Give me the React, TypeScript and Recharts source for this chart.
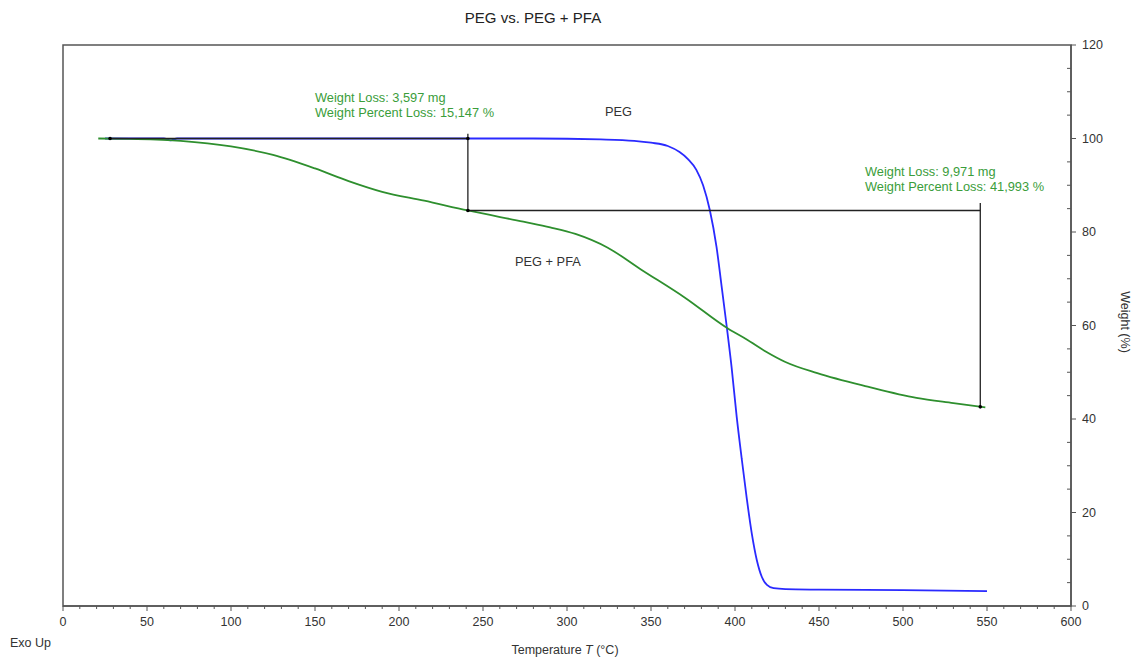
import { LineChart, Line, XAxis, YAxis, ReferenceLine, ReferenceDot, ReferenceArea } from "recharts";

// PEG (blue)
const pegTemp = [25, 60, 64, 68, 120, 200, 280, 320, 340, 350, 360, 367, 372, 377, 381, 385, 389, 392, 395, 398, 401, 404, 407, 410, 413, 416, 419, 423, 430, 450, 500, 550];
const pegWeight = [100, 100, 99.6, 100, 100, 100, 100, 99.8, 99.5, 99.1, 98.4, 97.1, 95.6, 93.3, 90.0, 84.7, 76.8, 68.5, 60, 51, 40.5, 31.5, 23, 15.5, 9.8, 6.2, 4.5, 3.8, 3.6, 3.5, 3.4, 3.2];

// PEG + PFA (green)
const pfaTemp = [21, 40, 70, 100, 125, 150, 170, 190, 215, 241, 274, 290, 305, 324, 344, 370, 396, 407, 418, 430, 449, 479, 508, 530, 549];
const pfaWeight = [100, 99.9, 99.5, 98.3, 96.5, 93.6, 90.9, 88.6, 86.7, 84.6, 82.2, 81.0, 79.6, 76.7, 72.0, 66.0, 59.3, 57.0, 54.5, 52.2, 49.8, 46.9, 44.5, 43.4, 42.5];

const xMajorTicks = [0, 50, 100, 150, 200, 250, 300, 350, 400, 450, 500, 550, 600];
const yMajorTicks = [0, 20, 40, 60, 80, 100, 120];

const xTicks: number[] = [];
for (let i = 0; i < xMajorTicks.length - 1; i++) {
  for (let k = 0; k < 5; k++) xTicks.push(xMajorTicks[i] + k * 10);
}
xTicks.push(600);
const yTicks: number[] = [];
for (let i = 0; i < yMajorTicks.length - 1; i++) {
  for (let k = 0; k < 4; k++) yTicks.push(yMajorTicks[i] + k * 5);
}
yTicks.push(120);

const pegData = pegTemp.map((t, i) => ({ t, w: pegWeight[i] }));
const pfaData = pfaTemp.map((t, i) => ({ t, w: pfaWeight[i] }));

const AXIS = "#555";
const GREEN_TXT = "#3a9d3a";
const FONT = "'Liberation Sans', Arial, sans-serif";

const XTick = (props: any) => {
  const { x, y, payload } = props;
  const major = xMajorTicks.includes(payload.value);
  return (
    <g>
      <line x1={x} x2={x} y1={y} y2={y + (major ? 5 : 3)} stroke={AXIS} />
      {major && (
        <text x={x} y={y + 20} textAnchor="middle" fontSize={12.5} fill="#333" fontFamily={FONT}>
          {payload.value}
        </text>
      )}
    </g>
  );
};

const YTick = (props: any) => {
  const { x, y, payload } = props;
  const major = yMajorTicks.includes(payload.value);
  return (
    <g>
      {major ? (
        <line x1={x} x2={x + 5} y1={y} y2={y} stroke={AXIS} />
      ) : (
        <line x1={x - 4} x2={x} y1={y} y2={y} stroke={AXIS} />
      )}
      {major && (
        <text x={x + 11} y={y + 4} textAnchor="start" fontSize={12.5} fill="#333" fontFamily={FONT}>
          {payload.value}
        </text>
      )}
    </g>
  );
};

const App = () => {
  return (
    <div style={{ position: "relative", width: 1131, height: 657, background: "#fff" }}>
      <style>{`body{margin:0}`}</style>
      <LineChart
        width={1131}
        height={657}
        margin={{ top: 45, right: 20, left: 63, bottom: 21 }}
      >
        <XAxis
          dataKey="t"
          type="number"
          domain={[0, 600]}
          ticks={xTicks}
          interval={0}
          tickSize={0}
          tickMargin={0}
          tickLine={false}
          tick={<XTick />}
          axisLine={{ stroke: AXIS, strokeWidth: 1.5 }}
          height={30}
          allowDataOverflow
        />
        <YAxis
          dataKey="w"
          type="number"
          orientation="right"
          domain={[0, 120]}
          ticks={yTicks}
          interval={0}
          tickSize={0}
          tickMargin={0}
          tickLine={false}
          tick={<YTick />}
          axisLine={{ stroke: AXIS, strokeWidth: 1.5 }}
          width={40}
          allowDataOverflow
        />
        <ReferenceArea x1={0} x2={600} y1={0} y2={120} fill="none" stroke={AXIS} strokeWidth={1.5} />
        <Line
          data={pegData}
          dataKey="w"
          type="monotone"
          stroke="#2a2aff"
          strokeWidth={1.8}
          dot={false}
          isAnimationActive={false}
        />
        <Line
          data={pfaData}
          dataKey="w"
          type="monotone"
          stroke="#2e8f2e"
          strokeWidth={1.8}
          dot={false}
          isAnimationActive={false}
        />
        <ReferenceLine segment={[{ x: 28, y: 100 }, { x: 241, y: 100 }]} stroke="#222" strokeWidth={1.3} />
        <ReferenceLine segment={[{ x: 241, y: 101 }, { x: 241, y: 84.6 }]} stroke="#222" strokeWidth={1.3} />
        <ReferenceLine segment={[{ x: 241, y: 84.6 }, { x: 546, y: 84.6 }]} stroke="#222" strokeWidth={1.3} />
        <ReferenceLine segment={[{ x: 546, y: 86.2 }, { x: 546, y: 42.6 }]} stroke="#222" strokeWidth={1.3} />
        <ReferenceDot x={28} y={100} r={1.8} fill="#000" stroke="none" />
        <ReferenceDot x={241} y={100} r={1.8} fill="#000" stroke="none" />
        <ReferenceDot x={241} y={84.6} r={1.8} fill="#000" stroke="none" />
        <ReferenceDot x={546} y={42.6} r={1.8} fill="#000" stroke="none" />
      </LineChart>
      <svg
        width={1131}
        height={657}
        style={{ position: "absolute", left: 0, top: 0, pointerEvents: "none" }}
        fontFamily={FONT}
      >
        <text x={533} y={23} textAnchor="middle" fontSize={15} fill="#222">PEG vs. PEG + PFA</text>
        <text x={315} y={102} fontSize={12.8} fill={GREEN_TXT}>Weight Loss: 3,597 mg</text>
        <text x={315} y={117} fontSize={12.8} fill={GREEN_TXT}>Weight Percent Loss: 15,147 %</text>
        <text x={865} y={176} fontSize={12.8} fill={GREEN_TXT}>Weight Loss: 9,971 mg</text>
        <text x={865} y={191} fontSize={12.8} fill={GREEN_TXT}>Weight Percent Loss: 41,993 %</text>
        <text x={605} y={116} fontSize={12.8} fill="#333">PEG</text>
        <text x={515} y={266} fontSize={12.8} fill="#333">PEG + PFA</text>
        <text x={10} y={647} fontSize={12.5} fill="#333">Exo Up</text>
        <text x={565} y={654} textAnchor="middle" fontSize={12.5} fill="#333">
          Temperature <tspan fontStyle="italic">T</tspan> (°C)
        </text>
        <text
          x={1121}
          y={322}
          textAnchor="middle"
          fontSize={12.5}
          fill="#333"
          transform="rotate(90 1121 322)"
        >
          Weight (%)
        </text>
      </svg>
    </div>
  );
};

export default App;
